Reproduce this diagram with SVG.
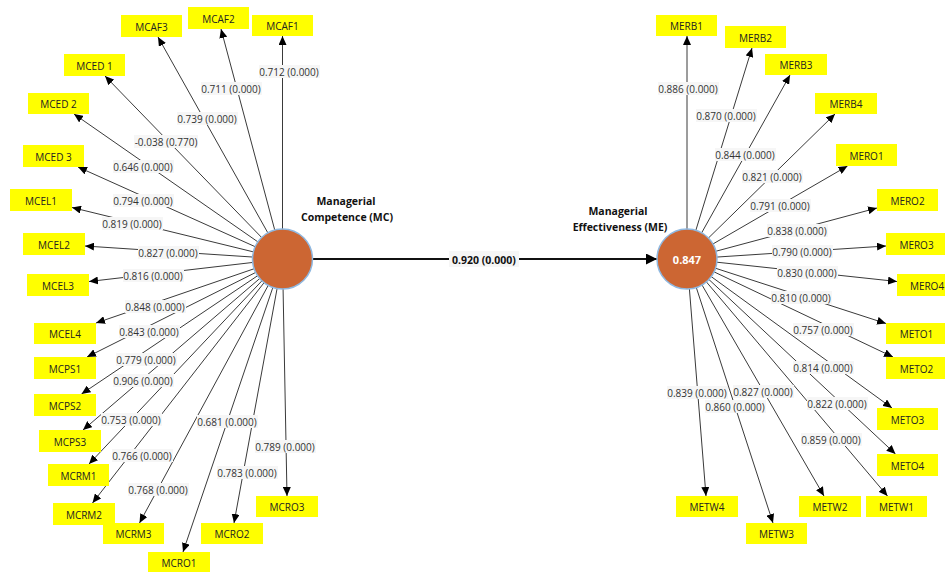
<svg xmlns="http://www.w3.org/2000/svg" width="945" height="572" viewBox="0 0 945 572">
<defs>
<style>
.ln{stroke:#3a3a3a;stroke-width:1;fill:none;marker-end:url(#ah)}
.main{stroke:#111;stroke-width:2;fill:none;marker-end:url(#ahm)}
.lb rect{fill:#f6f6f6}
.lb text{font-family:"Open Sans","Liberation Sans",sans-serif;font-size:10px;fill:#333;text-anchor:middle;dominant-baseline:central}
.ind rect{fill:#ffff00}
.ind text{font-family:"Open Sans","Liberation Sans",sans-serif;font-size:10px;fill:#222;text-anchor:middle;dominant-baseline:central}
.lv circle{fill:#cc6633;stroke:#8fb8e0;stroke-width:1.5}
.lvt{font-family:"Open Sans","Liberation Sans",sans-serif;font-size:10.5px;font-weight:bold;fill:#111;text-anchor:middle}
.val{font-family:"Open Sans","Liberation Sans",sans-serif;font-size:11px;font-weight:bold;fill:#fff;text-anchor:middle;dominant-baseline:central}
</style>
<marker id="ah" markerWidth="9" markerHeight="8" refX="9" refY="4" orient="auto" markerUnits="userSpaceOnUse"><path d="M0,0 L9,4 L0,8 z" fill="#000"/></marker>
<marker id="ahm" markerWidth="11" markerHeight="11" refX="11" refY="5.5" orient="auto" markerUnits="userSpaceOnUse"><path d="M0,0 L11,5.5 L0,11 z" fill="#000"/></marker>
</defs>
<rect width="945" height="572" fill="#fff"/>

<!-- outer loading paths -->
<g id="connectors">
<g id="mc-lines">
<line class="ln" x1="282.5" y1="259" x2="282.5" y2="36"/>
<line class="ln" x1="282.5" y1="259" x2="221" y2="29"/>
<line class="ln" x1="282.5" y1="259" x2="158" y2="37"/>
<line class="ln" x1="282.5" y1="259" x2="105" y2="76"/>
<line class="ln" x1="282.5" y1="259" x2="74" y2="114"/>
<line class="ln" x1="282.5" y1="259" x2="78" y2="167"/>
<line class="ln" x1="282.5" y1="259" x2="72" y2="207.5"/>
<line class="ln" x1="282.5" y1="259" x2="85" y2="246"/>
<line class="ln" x1="282.5" y1="259" x2="89" y2="281.5"/>
<line class="ln" x1="282.5" y1="259" x2="96" y2="323"/>
<line class="ln" x1="282.5" y1="259" x2="87" y2="357"/>
<line class="ln" x1="282.5" y1="259" x2="81.5" y2="394"/>
<line class="ln" x1="282.5" y1="259" x2="83" y2="430"/>
<line class="ln" x1="282.5" y1="259" x2="89" y2="464"/>
<line class="ln" x1="282.5" y1="259" x2="92.5" y2="503"/>
<line class="ln" x1="282.5" y1="259" x2="139.5" y2="523"/>
<line class="ln" x1="282.5" y1="259" x2="183" y2="552"/>
<line class="ln" x1="282.5" y1="259" x2="234" y2="523"/>
<line class="ln" x1="282.5" y1="259" x2="287" y2="496"/>
</g>
<g id="me-lines">
<line class="ln" x1="687" y1="259" x2="687" y2="36"/>
<line class="ln" x1="687" y1="259" x2="752" y2="48"/>
<line class="ln" x1="687" y1="259" x2="790" y2="75"/>
<line class="ln" x1="687" y1="259" x2="835" y2="114"/>
<line class="ln" x1="687" y1="259" x2="847.5" y2="166"/>
<line class="ln" x1="687" y1="259" x2="877" y2="208"/>
<line class="ln" x1="687" y1="259" x2="886" y2="246"/>
<line class="ln" x1="687" y1="259" x2="897" y2="281.5"/>
<line class="ln" x1="687" y1="259" x2="886" y2="323.5"/>
<line class="ln" x1="687" y1="259" x2="893" y2="357"/>
<line class="ln" x1="687" y1="259" x2="892" y2="408"/>
<line class="ln" x1="687" y1="259" x2="895.5" y2="454"/>
<line class="ln" x1="687" y1="259" x2="887.5" y2="496"/>
<line class="ln" x1="687" y1="259" x2="824" y2="496"/>
<line class="ln" x1="687" y1="259" x2="773" y2="523"/>
<line class="ln" x1="687" y1="259" x2="706" y2="496"/>
</g>
<line id="mc-me" class="main" x1="312.5" y1="259" x2="657" y2="259"/>

<!-- path coefficients with p-values -->
<g class="lb">
<rect x="259" y="65" width="61" height="13"/><text x="289" y="71.5">0.712 (0.000)</text>
<rect x="201" y="82" width="61" height="13"/><text x="231" y="88.5">0.711 (0.000)</text>
<rect x="177" y="112" width="61" height="13"/><text x="207" y="118.5">0.739 (0.000)</text>
<rect x="134" y="135" width="64" height="13"/><text x="166" y="141.5">-0.038 (0.770)</text>
<rect x="113" y="160" width="61" height="13"/><text x="143" y="166.5">0.646 (0.000)</text>
<rect x="113" y="194" width="61" height="13"/><text x="143" y="200.5">0.794 (0.000)</text>
<rect x="102" y="217" width="61" height="13"/><text x="132" y="223.5">0.819 (0.000)</text>
<rect x="138" y="246" width="61" height="13"/><text x="168" y="252.5">0.827 (0.000)</text>
<rect x="123" y="269" width="61" height="13"/><text x="153" y="275.5">0.816 (0.000)</text>
<rect x="125" y="300" width="61" height="13"/><text x="155" y="306.5">0.848 (0.000)</text>
<rect x="119" y="325" width="61" height="13"/><text x="149" y="331.5">0.843 (0.000)</text>
<rect x="116" y="353" width="61" height="13"/><text x="146" y="359.5">0.779 (0.000)</text>
<rect x="113" y="374" width="61" height="13"/><text x="143" y="380.5">0.906 (0.000)</text>
<rect x="101" y="413" width="61" height="13"/><text x="131" y="419.5">0.753 (0.000)</text>
<rect x="112" y="449" width="61" height="13"/><text x="142" y="455.5">0.766 (0.000)</text>
<rect x="128" y="483" width="61" height="13"/><text x="158" y="489.5">0.768 (0.000)</text>
<rect x="197" y="415" width="61" height="13"/><text x="227" y="421.5">0.681 (0.000)</text>
<rect x="217" y="466" width="61" height="13"/><text x="247" y="472.5">0.783 (0.000)</text>
<rect x="255" y="440" width="61" height="13"/><text x="285" y="446.5">0.789 (0.000)</text>

<rect x="658" y="82" width="61" height="13"/><text x="688" y="88.5">0.886 (0.000)</text>
<rect x="696" y="109" width="61" height="13"/><text x="726" y="115.5">0.870 (0.000)</text>
<rect x="715" y="148" width="61" height="13"/><text x="745" y="154.5">0.844 (0.000)</text>
<rect x="742" y="170" width="61" height="13"/><text x="772" y="176.5">0.821 (0.000)</text>
<rect x="750" y="199" width="61" height="13"/><text x="780" y="205.5">0.791 (0.000)</text>
<rect x="767" y="224" width="61" height="13"/><text x="797" y="230.5">0.838 (0.000)</text>
<rect x="772" y="245" width="61" height="13"/><text x="802" y="251.5">0.790 (0.000)</text>
<rect x="777" y="266" width="61" height="13"/><text x="807" y="272.5">0.830 (0.000)</text>
<rect x="771" y="291" width="61" height="13"/><text x="801" y="297.5">0.810 (0.000)</text>
<rect x="793" y="323" width="61" height="13"/><text x="823" y="329.5">0.757 (0.000)</text>
<rect x="793" y="361" width="61" height="13"/><text x="823" y="367.5">0.814 (0.000)</text>
<rect x="807" y="397" width="61" height="13"/><text x="837" y="403.5">0.822 (0.000)</text>
<rect x="801" y="433" width="61" height="13"/><text x="831" y="439.5">0.859 (0.000)</text>
<rect x="733" y="385" width="61" height="13"/><text x="763" y="391.5">0.827 (0.000)</text>
<rect x="705" y="400" width="61" height="13"/><text x="735" y="406.5">0.860 (0.000)</text>
<rect x="667" y="386" width="61" height="13"/><text x="697" y="392.5">0.839 (0.000)</text>

<rect x="449" y="251" width="70" height="16" fill="#fafafa"/>
<text x="484" y="259.5" style="font-weight:bold;font-size:10.5px;fill:#111">0.920 (0.000)</text>
</g>
</g>

<!-- latent constructs -->
<g id="MC" class="lv">
<circle cx="282.5" cy="259" r="30"/>
<text class="lvt" x="346" y="205">Managerial</text>
<text class="lvt" x="347" y="221">Competence (MC)</text>
</g>
<g id="ME" class="lv">
<circle cx="687" cy="259" r="30"/>
<text class="val" x="687" y="259.5">0.847</text>
<text class="lvt" x="618" y="215">Managerial</text>
<text class="lvt" x="620" y="231">Effectiveness (ME)</text>
</g>

<!-- MC indicators -->
<g id="MCAF1" class="ind"><rect x="252" y="15" width="61" height="21"/><text x="282.5" y="26">MCAF1</text></g>
<g id="MCAF2" class="ind"><rect x="188" y="7" width="61" height="22"/><text x="218.5" y="18.5">MCAF2</text></g>
<g id="MCAF3" class="ind"><rect x="121" y="15" width="61" height="22"/><text x="151.5" y="26.5">MCAF3</text></g>
<g id="MCED1" class="ind"><rect x="64" y="54" width="61" height="22"/><text x="94.5" y="65.5">MCED 1</text></g>
<g id="MCED2" class="ind"><rect x="28" y="93" width="61" height="21"/><text x="58.5" y="104">MCED 2</text></g>
<g id="MCED3" class="ind"><rect x="23" y="145" width="61" height="22"/><text x="53.5" y="156.5">MCED 3</text></g>
<g id="MCEL1" class="ind"><rect x="10" y="189" width="62" height="22"/><text x="41" y="200.5">MCEL1</text></g>
<g id="MCEL2" class="ind"><rect x="23" y="233" width="62" height="22"/><text x="54" y="244.5">MCEL2</text></g>
<g id="MCEL3" class="ind"><rect x="27" y="274" width="62" height="22"/><text x="58" y="285.5">MCEL3</text></g>
<g id="MCEL4" class="ind"><rect x="34" y="323" width="62" height="21"/><text x="65" y="334">MCEL4</text></g>
<g id="MCPS1" class="ind"><rect x="34" y="357" width="62" height="22"/><text x="65" y="368.5">MCPS1</text></g>
<g id="MCPS2" class="ind"><rect x="34" y="394" width="62" height="22"/><text x="65" y="405.5">MCPS2</text></g>
<g id="MCPS3" class="ind"><rect x="39" y="430" width="62" height="22"/><text x="70" y="441.5">MCPS3</text></g>
<g id="MCRM1" class="ind"><rect x="48" y="464" width="61" height="22"/><text x="78.5" y="475.5">MCRM1</text></g>
<g id="MCRM2" class="ind"><rect x="53" y="503" width="62" height="22"/><text x="84" y="514.5">MCRM2</text></g>
<g id="MCRM3" class="ind"><rect x="103" y="523" width="61" height="21"/><text x="133.5" y="534">MCRM3</text></g>
<g id="MCRO1" class="ind"><rect x="148" y="552" width="62" height="21"/><text x="179" y="563">MCRO1</text></g>
<g id="MCRO2" class="ind"><rect x="201" y="523" width="62" height="21"/><text x="232" y="534">MCRO2</text></g>
<g id="MCRO3" class="ind"><rect x="256" y="496" width="62" height="21"/><text x="287" y="507">MCRO3</text></g>

<!-- ME indicators -->
<g id="MERB1" class="ind"><rect x="656" y="15" width="61" height="21"/><text x="686.5" y="26">MERB1</text></g>
<g id="MERB2" class="ind"><rect x="725" y="26" width="61" height="22"/><text x="755.5" y="37.5">MERB2</text></g>
<g id="MERB3" class="ind"><rect x="765" y="54" width="62" height="21"/><text x="796" y="65">MERB3</text></g>
<g id="MERB4" class="ind"><rect x="815" y="93" width="62" height="21"/><text x="846" y="104">MERB4</text></g>
<g id="MERO1" class="ind"><rect x="836" y="144" width="61" height="22"/><text x="866.5" y="155.5">MERO1</text></g>
<g id="MERO2" class="ind"><rect x="877" y="189" width="61" height="22"/><text x="907.5" y="200.5">MERO2</text></g>
<g id="MERO3" class="ind"><rect x="886" y="233" width="61" height="22"/><text x="916.5" y="244.5">MERO3</text></g>
<g id="MERO4" class="ind"><rect x="897" y="274" width="62" height="22"/><text x="927" y="285.5">MERO4</text></g>
<g id="METO1" class="ind"><rect x="886" y="323" width="61" height="21"/><text x="916.5" y="334">METO1</text></g>
<g id="METO2" class="ind"><rect x="886" y="357" width="61" height="22"/><text x="916.5" y="368.5">METO2</text></g>
<g id="METO3" class="ind"><rect x="877" y="408" width="61" height="22"/><text x="907.5" y="419.5">METO3</text></g>
<g id="METO4" class="ind"><rect x="877" y="454" width="61" height="22"/><text x="907.5" y="465.5">METO4</text></g>
<g id="METW1" class="ind"><rect x="866" y="496" width="61" height="21"/><text x="896.5" y="507">METW1</text></g>
<g id="METW2" class="ind"><rect x="799" y="496" width="62" height="21"/><text x="830" y="507">METW2</text></g>
<g id="METW3" class="ind"><rect x="746" y="523" width="61" height="21"/><text x="776.5" y="534">METW3</text></g>
<g id="METW4" class="ind"><rect x="676" y="496" width="62" height="21"/><text x="707" y="507">METW4</text></g>
</svg>
